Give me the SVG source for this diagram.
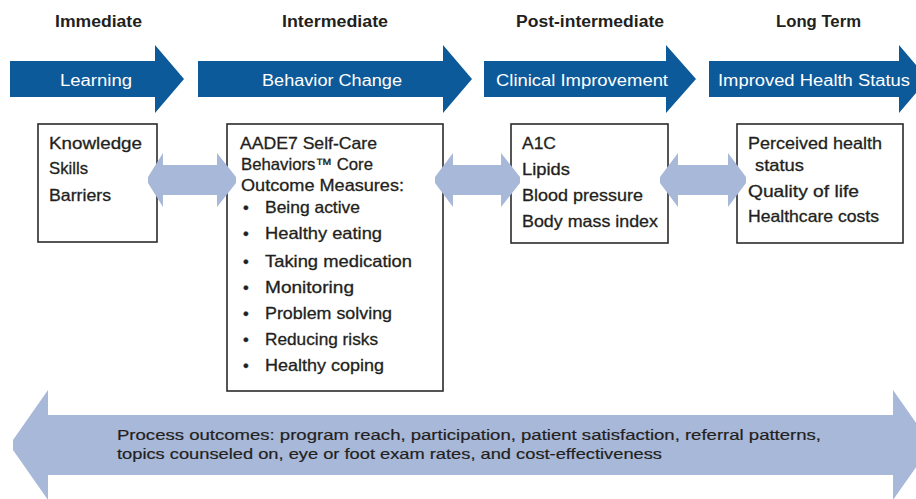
<svg xmlns="http://www.w3.org/2000/svg" width="916" height="499" viewBox="0 0 916 499">
  <style>
    .hdr { font-family: "Liberation Sans", Arial, sans-serif; font-size: 16px; font-weight: bold; fill: #231f20; }
    .stage { fill: #0d5a9a; }
    .stagelbl { font-family: "Liberation Sans", Arial, sans-serif; font-size: 16px; fill: #ffffff; }
    .box { fill: #ffffff; stroke: #2b2b2b; stroke-width: 1.6; }
    .txt { font-family: "Liberation Sans", Arial, sans-serif; font-size: 16.5px; fill: #231f20; stroke: #231f20; stroke-width: 0.3; }
    .link { fill: #a8b8d9; }
    .proc { font-family: "Liberation Sans", Arial, sans-serif; font-size: 15px; fill: #231f20; stroke: #231f20; stroke-width: 0.2; }
  </style>

  <!-- column headings -->
  <g id="headings">
    <text class="hdr" x="55" y="27" textLength="87" lengthAdjust="spacingAndGlyphs">Immediate</text>
    <text class="hdr" x="282" y="27" textLength="106" lengthAdjust="spacingAndGlyphs">Intermediate</text>
    <text class="hdr" x="516" y="27" textLength="148" lengthAdjust="spacingAndGlyphs">Post-intermediate</text>
    <text class="hdr" x="776" y="27" textLength="85" lengthAdjust="spacingAndGlyphs">Long Term</text>
  </g>

  <!-- stage arrows -->
  <g id="stage-learning">
    <polygon class="stage" points="10,61 155,61 155,45 184,79 155,113 155,97 10,97"/>
    <text class="stagelbl" x="60" y="86" textLength="72" lengthAdjust="spacingAndGlyphs">Learning</text>
  </g>
  <g id="stage-behavior">
    <polygon class="stage" points="198,61 443,61 443,45 472,79 443,113 443,97 198,97"/>
    <text class="stagelbl" x="262" y="86" textLength="140" lengthAdjust="spacingAndGlyphs">Behavior Change</text>
  </g>
  <g id="stage-clinical">
    <polygon class="stage" points="484,61 666,61 666,45 696,79 666,113 666,97 484,97"/>
    <text class="stagelbl" x="496" y="86" textLength="172" lengthAdjust="spacingAndGlyphs">Clinical Improvement</text>
  </g>
  <g id="stage-health">
    <polygon class="stage" points="709,61 899,61 899,45 928,79 899,113 899,97 709,97"/>
    <text class="stagelbl" x="718" y="86" textLength="192" lengthAdjust="spacingAndGlyphs">Improved Health Status</text>
  </g>

  <!-- outcome boxes -->
  <g id="box-learning">
    <rect class="box" x="38" y="124" width="119" height="118"/>
    <text class="txt" x="49" y="149" textLength="93" lengthAdjust="spacingAndGlyphs">Knowledge</text>
    <text class="txt" x="49" y="174" textLength="39" lengthAdjust="spacingAndGlyphs">Skills</text>
    <text class="txt" x="49" y="201" textLength="62" lengthAdjust="spacingAndGlyphs">Barriers</text>
  </g>
  <g id="box-behavior">
    <rect class="box" x="227" y="124" width="216" height="267"/>
    <text class="txt" x="240" y="149" textLength="137" lengthAdjust="spacingAndGlyphs">AADE7 Self-Care</text>
    <text class="txt" x="241" y="170" textLength="132" lengthAdjust="spacingAndGlyphs">Behaviors™ Core</text>
    <text class="txt" x="241" y="191" textLength="163" lengthAdjust="spacingAndGlyphs">Outcome Measures:</text>
    <g class="txt">
      <text x="243" y="213">•</text>
      <text x="265" y="213" textLength="95" lengthAdjust="spacingAndGlyphs">Being active</text>
      <text x="243" y="239">•</text>
      <text x="265" y="239" textLength="117" lengthAdjust="spacingAndGlyphs">Healthy eating</text>
      <text x="243" y="267">•</text>
      <text x="265" y="267" textLength="147" lengthAdjust="spacingAndGlyphs">Taking medication</text>
      <text x="243" y="293">•</text>
      <text x="265" y="293" textLength="89" lengthAdjust="spacingAndGlyphs">Monitoring</text>
      <text x="243" y="319">•</text>
      <text x="265" y="319" textLength="127" lengthAdjust="spacingAndGlyphs">Problem solving</text>
      <text x="243" y="345">•</text>
      <text x="265" y="345" textLength="113" lengthAdjust="spacingAndGlyphs">Reducing risks</text>
      <text x="243" y="371">•</text>
      <text x="265" y="371" textLength="119" lengthAdjust="spacingAndGlyphs">Healthy coping</text>
    </g>
  </g>
  <g id="box-clinical">
    <rect class="box" x="511" y="124" width="157" height="119"/>
    <text class="txt" x="522" y="149" textLength="34" lengthAdjust="spacingAndGlyphs">A1C</text>
    <text class="txt" x="522" y="175" textLength="48" lengthAdjust="spacingAndGlyphs">Lipids</text>
    <text class="txt" x="522" y="201" textLength="121" lengthAdjust="spacingAndGlyphs">Blood pressure</text>
    <text class="txt" x="522" y="227" textLength="136" lengthAdjust="spacingAndGlyphs">Body mass index</text>
  </g>
  <g id="box-health">
    <rect class="box" x="737" y="124" width="166" height="119"/>
    <text class="txt" x="748" y="149" textLength="134" lengthAdjust="spacingAndGlyphs">Perceived health</text>
    <text class="txt" x="755" y="171" textLength="49" lengthAdjust="spacingAndGlyphs">status</text>
    <text class="txt" x="748" y="197" textLength="111" lengthAdjust="spacingAndGlyphs">Quality of life</text>
    <text class="txt" x="748" y="222" textLength="131" lengthAdjust="spacingAndGlyphs">Healthcare costs</text>
  </g>

  <!-- two-way links between boxes -->
  <g id="connectors">
    <polygon class="link" points="148,177 163,153 163,165 217,165 217,153 236,177 236,183 217,207 217,195 163,195 163,207 148,183"/>
    <polygon class="link" points="435,177 453,153 453,165 501,165 501,153 520,177 520,183 501,207 501,195 453,195 453,207 435,183"/>
    <polygon class="link" points="660,177 678,153 678,165 728,165 728,153 746,177 746,183 728,207 728,195 678,195 678,207 660,183"/>
  </g>

  <!-- process outcomes band -->
  <g id="process-outcomes">
    <polygon class="link" points="13,440 48,390 48,415 893,415 893,390 928,440 928,450 893,500 893,475 48,475 48,500 13,450"/>
    <text class="proc" x="117" y="440" textLength="704" lengthAdjust="spacingAndGlyphs">Process outcomes: program reach, participation, patient satisfaction, referral patterns,</text>
    <text class="proc" x="117" y="459" textLength="545" lengthAdjust="spacingAndGlyphs">topics counseled on, eye or foot exam rates, and cost-effectiveness</text>
  </g>
</svg>
